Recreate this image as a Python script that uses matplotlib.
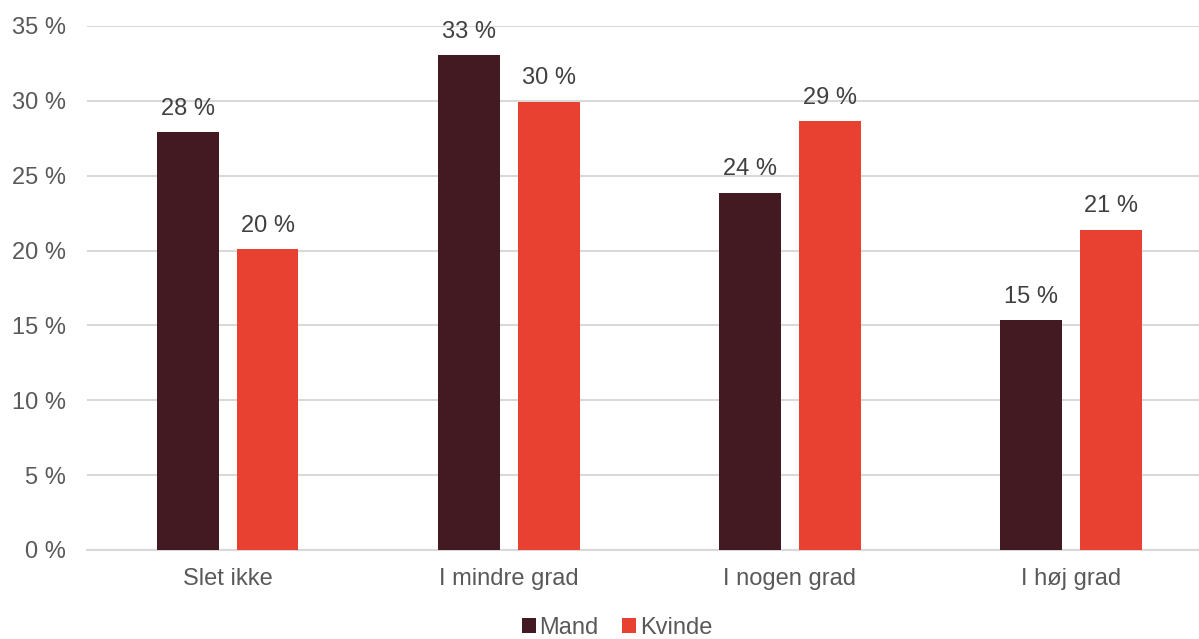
import matplotlib
matplotlib.use("Agg")
import matplotlib.pyplot as plt
import numpy as np

categories = ["Slet ikke", "I mindre grad", "I nogen grad", "I høj grad"]
mand = [27.9, 33.05, 23.85, 15.35]
kvinde = [20.1, 29.95, 28.65, 21.4]
mand_labels = ["28 %", "33 %", "24 %", "15 %"]
kvinde_labels = ["20 %", "30 %", "29 %", "21 %"]
yticks = [0, 5, 10, 15, 20, 25, 30, 35]

plt.rcParams['font.family'] = ['Liberation Sans', 'DejaVu Sans']

W, H = 1199, 639
fig = plt.figure(figsize=(W/100, H/100), dpi=100)
ax = fig.add_axes([87/W, (H-550)/H, (1199-87)/W, (550-26)/H])

x = np.arange(len(categories))
bw = 0.22
off = 0.142
c_m = "#431A22"
c_k = "#E84031"
fs = 17
b1 = ax.bar(x - off, mand, bw, color=c_m, label="Mand", zorder=3)
b2 = ax.bar(x + off, kvinde, bw, color=c_k, label="Kvinde", zorder=3)

for bars, labs in ((b1, mand_labels), (b2, kvinde_labels)):
    for b, l in zip(bars, labs):
        ax.annotate(l, (b.get_x() + b.get_width()/2, b.get_height()),
                    xytext=(0, 9), textcoords="offset points",
                    ha="center", va="bottom", fontsize=fs, color="#404040")

ax.set_xlim(-0.5, 3.455)
ax.set_ylim(0, 35)
ax.set_yticks(yticks)
ax.set_yticklabels([f"{v} %" for v in yticks], fontsize=fs, color="#595959")
ax.set_xticks(x)
ax.set_xticklabels(categories, fontsize=fs, color="#595959")
ax.tick_params(axis="both", length=0)
ax.tick_params(axis="y", pad=15)
ax.tick_params(axis="x", pad=13)
ax.grid(axis="y", color="#D9D9D9", linewidth=1.5, zorder=0)
for s in ["top", "right", "left"]:
    ax.spines[s].set_visible(False)
ax.spines["bottom"].set_color("#D9D9D9")
ax.spines["bottom"].set_linewidth(1.5)

fig.legend(handles=[b1, b2], loc="center", bbox_to_anchor=(617/W, 1 - 628/H),
           ncol=2, frameon=False, fontsize=fs, handlelength=0.6, handleheight=0.6,
           handletextpad=0.15, columnspacing=1.0, labelcolor="#595959")

fig.savefig("out.png", dpi=100)
